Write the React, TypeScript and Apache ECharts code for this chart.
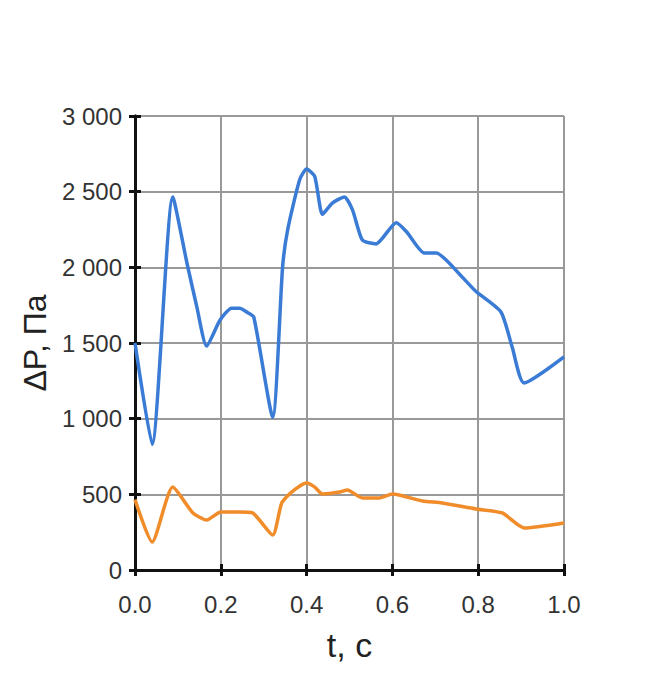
import React, { useEffect, useRef } from "react";
import * as echarts from "echarts";

const blueT = [0, 0.04, 0.088, 0.121, 0.144, 0.167, 0.198, 0.225, 0.244, 0.263, 0.277, 0.321, 0.344, 0.356, 0.384, 0.4, 0.419, 0.437, 0.46, 0.488, 0.507, 0.53, 0.562, 0.609, 0.633, 0.674, 0.702, 0.763, 0.795, 0.853, 0.879, 0.907, 1.0];
const blueP = [1500, 830, 2465, 2030, 1740, 1480, 1650, 1730, 1730, 1700, 1670, 1010, 2000, 2250, 2580, 2650, 2600, 2350, 2425, 2465, 2380, 2180, 2155, 2295, 2235, 2095, 2095, 1935, 1840, 1705, 1475, 1236, 1408];

const orangeT = [0, 0.04, 0.088, 0.135, 0.167, 0.2, 0.244, 0.274, 0.321, 0.342, 0.365, 0.4, 0.419, 0.437, 0.477, 0.495, 0.53, 0.57, 0.6, 0.67, 0.716, 0.795, 0.856, 0.907, 1.0];
const orangeP = [465, 185, 548, 377, 330, 383, 383, 377, 231, 443, 515, 575, 548, 502, 515, 529, 476, 476, 502, 456, 443, 403, 377, 278, 311];

const xTicks = [0, 0.2, 0.4, 0.6, 0.8, 1.0];
const yTicks = [0, 500, 1000, 1500, 2000, 2500, 3000];

const FONT = "Liberation Sans, Arial, sans-serif";

export default function App() {
  const ref = useRef<HTMLDivElement>(null);
  useEffect(() => {
    if (!ref.current) return;
    const chart = echarts.init(ref.current, undefined, { renderer: "svg" });
    const frame = { show: true, lineStyle: { color: "#111", width: 3 } };
    const tick = { show: true, inside: true, length: 6, lineStyle: { color: "#111", width: 3 } };
    const fmtY = (v: number) => String(v).replace(/\B(?=(\d{3})+(?!\d))/g, " ");
    chart.setOption({
      animation: false,
      backgroundColor: "#fff",
      textStyle: { fontFamily: FONT },
      grid: { left: 135, top: 116, right: 100, bottom: 110 },
      xAxis: [
        {
          type: "value",
          min: xTicks[0],
          max: xTicks[xTicks.length - 1],
          interval: 0.2,
          position: "bottom",
          axisLine: frame,
          axisTick: tick,
          axisLabel: { color: "#333", fontSize: 24, margin: 22, fontFamily: FONT, formatter: (v: number) => v.toFixed(1) },
          splitLine: { show: true, lineStyle: { color: "#999", width: 2 } },
          name: "t, c",
          nameLocation: "middle",
          nameGap: 58,
          nameTextStyle: { fontSize: 34, color: "#222", fontFamily: FONT },
        },
        {
          type: "value",
          min: 0,
          max: 1,
          interval: 0.2,
          position: "top",
          axisLine: frame,
          axisTick: tick,
          axisLabel: { show: false },
          splitLine: { show: false },
        },
      ],
      yAxis: [
        {
          type: "value",
          min: yTicks[0],
          max: yTicks[yTicks.length - 1],
          interval: 500,
          position: "left",
          axisLine: frame,
          axisTick: tick,
          axisLabel: { color: "#333", fontSize: 24, margin: 13, fontFamily: FONT, formatter: fmtY },
          splitLine: { show: true, lineStyle: { color: "#999", width: 2 } },
          name: "ΔP, Па",
          nameLocation: "middle",
          nameGap: 84,
          nameTextStyle: { fontSize: 32, color: "#222", fontFamily: FONT },
        },
        {
          type: "value",
          min: 0,
          max: 3000,
          interval: 500,
          position: "right",
          axisLine: frame,
          axisTick: tick,
          axisLabel: { show: false },
          splitLine: { show: false },
        },
      ],
      series: [
        {
          type: "line",
          data: blueT.map((t, i) => [t, blueP[i]]),
          showSymbol: false,
          smooth: 0.2,
          lineStyle: { color: "#3a7bd5", width: 3.5 },
          z: 3,
        },
        {
          type: "line",
          data: orangeT.map((t, i) => [t, orangeP[i]]),
          showSymbol: false,
          smooth: 0.2,
          lineStyle: { color: "#f08c2a", width: 3.5 },
          z: 3,
        },
      ],
    });
    return () => chart.dispose();
  }, []);
  return <div ref={ref} style={{ position: "fixed", left: 0, top: 0, width: 664, height: 680 }} />;
}
